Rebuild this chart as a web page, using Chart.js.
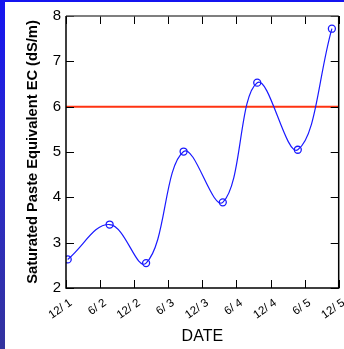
<!DOCTYPE html>
<html>
<head>
<meta charset="utf-8">
<script src="https://cdn.jsdelivr.net/npm/chart.js@4.4.0/dist/chart.umd.min.js"></script>
<style>
  html, body { margin: 0; padding: 0; }
  #frame {
    width: 344px; height: 349px; position: relative; overflow: hidden;
    background: linear-gradient(180deg, #1414f0 0%, #2a2acc 45%, #33339e 100%);
  }
  #box {
    position: absolute; left: 5px; top: 2px; width: 339px; height: 347px; background: #ffffff;
  }
</style>
</head>
<body>
<div id="frame">
  <div id="box"><canvas id="ecChart" width="339" height="347"></canvas></div>
</div>
<script>
// tick labels along the date axis (one every half year)
const dateLabels = ['12/ 1', '6/ 2', '12/ 2', '6/ 3', '12/ 3', '6/ 4', '12/ 4', '6/ 5', '12/ 5'];
// sampling times, counted in half-year steps from 12/1
const sampleTimes = [0.05, 1.28, 2.35, 3.45, 4.60, 5.61, 6.80, 7.80];
// saturated paste EC readings (dS/m)
const ecValues = [2.63, 3.40, 2.55, 5.01, 3.89, 6.53, 5.05, 7.72];
// threshold line
const thresholdEC = 6;
const yMin = 2, yMax = 8;

// inward ticks on all four sides plus the box
const frameTicks = {
  id: 'frameTicks',
  afterDatasetsDraw(chart) {
    const { ctx, chartArea: a, scales } = chart;
    const len = 8;
    ctx.save();
    ctx.lineWidth = 1;
    ctx.strokeStyle = '#000';
    scales.x.ticks.forEach(t => {
      const px = Math.round(scales.x.getPixelForValue(t.value)) + 0.5;
      ctx.beginPath();
      ctx.moveTo(px, a.bottom); ctx.lineTo(px, a.bottom - len);
      ctx.moveTo(px, a.top); ctx.lineTo(px, a.top + len);
      ctx.stroke();
    });
    scales.y.ticks.forEach(t => {
      const py = Math.round(scales.y.getPixelForValue(t.value)) + 0.5;
      ctx.beginPath();
      ctx.moveTo(a.left, py); ctx.lineTo(a.left + len, py);
      ctx.moveTo(a.right, py); ctx.lineTo(a.right - len, py);
      ctx.stroke();
    });
    ctx.lineWidth = 1.5;
    ctx.strokeStyle = '#555';
    ctx.beginPath();
    ctx.moveTo(a.left, a.top); ctx.lineTo(a.right, a.top);
    ctx.stroke();
    ctx.strokeStyle = '#000';
    ctx.beginPath();
    ctx.moveTo(a.right, a.top); ctx.lineTo(a.right, a.bottom);
    ctx.lineTo(a.left, a.bottom); ctx.lineTo(a.left, a.top);
    ctx.stroke();
    ctx.restore();
  }
};

document.addEventListener('DOMContentLoaded', function () {
  const ctx = document.getElementById('ecChart').getContext('2d');

  new Chart(ctx, {
    type: 'line',
    data: {
      datasets: [
        {
          label: 'EC',
          data: sampleTimes.map((t, i) => ({ x: t, y: ecValues[i] })),
          borderColor: '#1a1aff',
          borderWidth: 1.2,
          tension: 0.4,
          pointRadius: 3.5,
          pointBorderWidth: 1.3,
          pointBackgroundColor: 'rgba(255,255,255,0)',
          pointBorderColor: '#1a1aff',
          fill: false
        },
        {
          label: 'Threshold',
          data: [{ x: 0, y: thresholdEC }, { x: dateLabels.length - 1, y: thresholdEC }],
          borderColor: '#ff3311',
          borderWidth: 2,
          pointRadius: 0,
          tension: 0,
          fill: false
        }
      ]
    },
    options: {
      responsive: false,
      animation: false,
      events: [],
      layout: { padding: { top: 12, right: 4, left: 0, bottom: 0 } },
      plugins: {
        legend: { display: false },
        tooltip: { enabled: false }
      },
      scales: {
        x: {
          type: 'linear',
          min: 0,
          max: dateLabels.length - 1,
          grid: { display: false, drawTicks: false },
          border: { display: false },
          afterBuildTicks: scale => {
            scale.ticks = dateLabels.map((_, i) => ({ value: i }));
          },
          afterFit: scale => {
            scale.height = 61;
            scale.paddingLeft = 0;
            scale.paddingRight = 0;
          },
          ticks: {
            autoSkip: false,
            minRotation: 35,
            maxRotation: 35,
            padding: 8,
            labelOffset: 5,
            color: '#000',
            font: { family: 'Liberation Sans, Arial', size: 11.5 },
            callback: v => dateLabels[v]
          },
          title: {
            display: true,
            text: 'DATE',
            color: '#000',
            font: { family: 'Liberation Sans, Arial', size: 16 },
            padding: { top: 0, bottom: 3 }
          }
        },
        y: {
          min: yMin,
          max: yMax,
          grid: { display: false, drawTicks: false },
          border: { display: false },
          afterFit: scale => { scale.width = 61; },
          ticks: {
            stepSize: 1,
            padding: 5,
            color: '#000',
            font: { family: 'Liberation Sans, Arial', size: 15 }
          },
          title: {
            display: true,
            text: 'Saturated Paste Equivalent EC (dS/m)',
            color: '#000',
            font: { family: 'Liberation Sans, Arial', size: 14.7, weight: 'bold' },
            padding: { top: 19, bottom: 0 }
          }
        }
      }
    },
    plugins: [frameTicks]
  });
});
</script>
</body>
</html>
